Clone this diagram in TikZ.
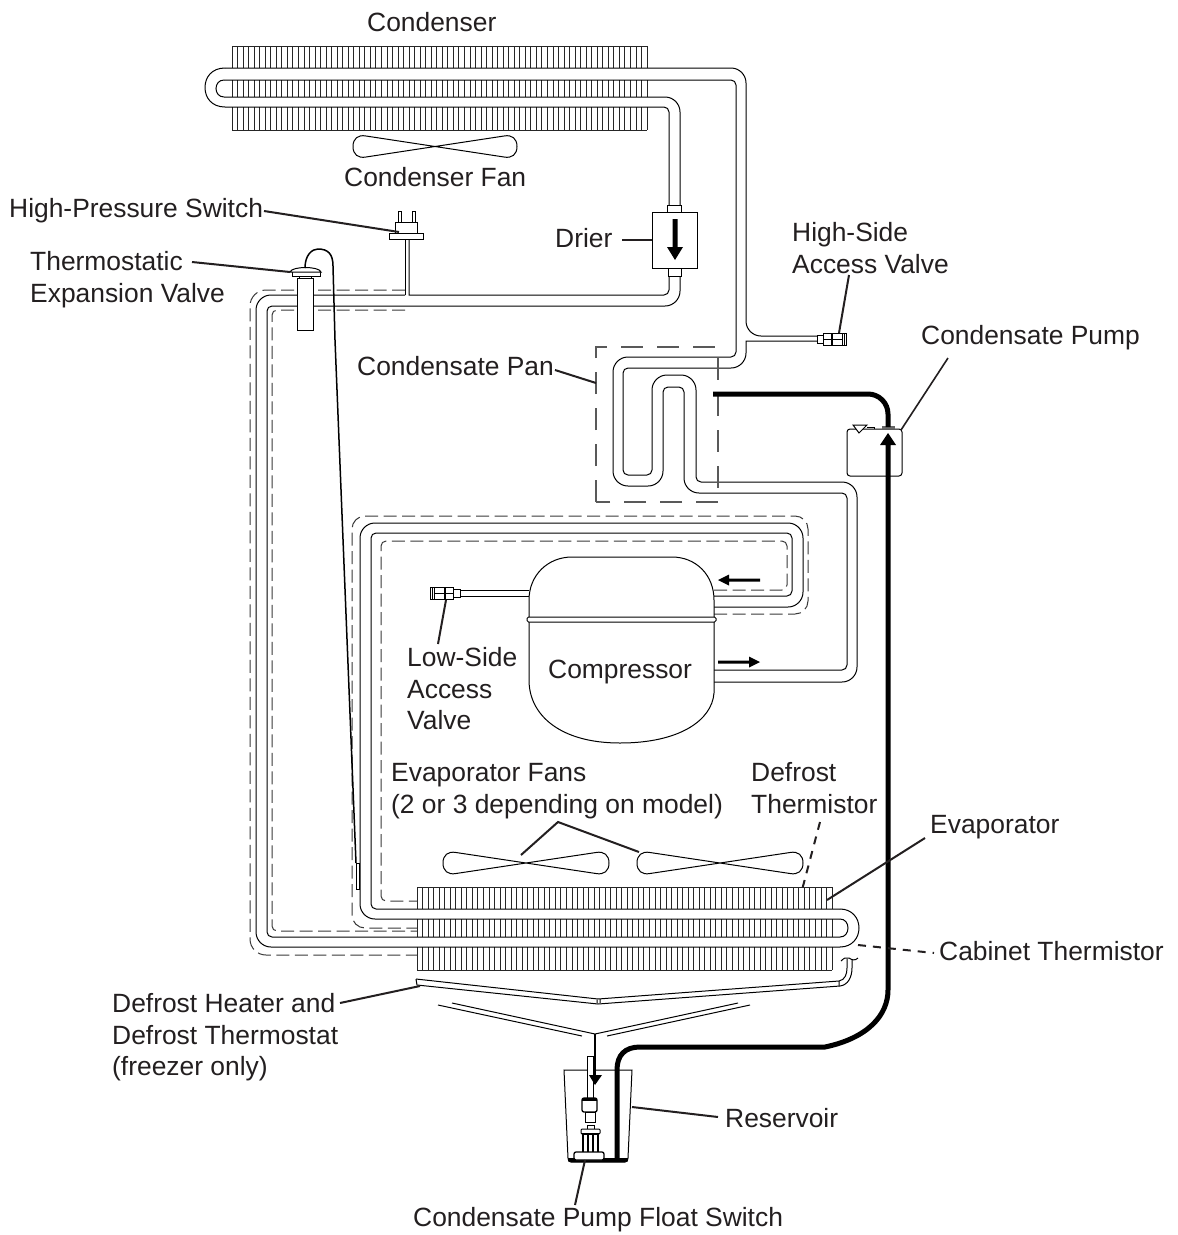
\documentclass[tikz,border=0pt]{standalone}
\usepackage{fontspec}
\setmainfont{Liberation Sans}
\definecolor{ink}{HTML}{231F20}
\definecolor{dashc}{HTML}{3A3A3A}
\tikzset{
  lbl/.style={anchor=north west,inner sep=0pt,align=left,text=ink,font=\fontsize{26.4}{31.8}\selectfont},
  tube/.style={draw=black,line width=1pt},
  finline/.style={draw=black!85,line width=.8pt},
  hint/.style={draw=dashc,line width=1pt,dash pattern=on 13pt off 5.5pt,rounded corners=#1},
  hint/.default=5pt,
  panline/.style={draw=black!65,line width=1.1pt,dash pattern=on 22pt off 14pt},
  leader/.style={draw=ink,line width=2pt},
  dleader/.style={draw=ink,line width=2pt,dash pattern=on 8pt off 7pt},
  thickline/.style={draw=black,line width=5pt},
  part/.style={draw=black,line width=1pt,fill=white},
  rs/.style={rounded corners=5pt},
  rb/.style={rounded corners=15pt}
}
\newcommand{\finrows}[7]{%x0,y1,y2,y3,y4,y5,y6
  \foreach \i [evaluate=\i as \xx using #1+5.533*\i] in {0,...,75}{
    \draw[finline] (\xx,#2)--(\xx,#3) (\xx,#4)--(\xx,#5) (\xx,#6)--(\xx,#7);
  }
  \draw[finline] (#1,#2)--({#1+415},#2) (#1,#7)--({#1+415},#7);
}
\newcommand{\fanshape}[3]{%
  \begin{scope}[shift={(#1,#2)}]
  \draw[tube] (0,0) -- (-#3+13,-10.5) .. controls (-#3+5,-12) and (-#3,-8) .. (-#3,0)
    .. controls (-#3,8) and (-#3+5,12) .. (-#3+13,10.5) -- (0,0)
    -- (#3-13,-10.5) .. controls (#3-5,-12) and (#3,-8) .. (#3,0)
    .. controls (#3,8) and (#3-5,12) .. (#3-13,10.5) -- cycle;
  \end{scope}}
\begin{document}
\begin{tikzpicture}[x=1pt,y=-1pt]
\path[use as bounding box,fill=white] (0,0) rectangle (1178,1235);

% fin banks
\finrows{232}{46}{68}{80}{97}{107}{130}
\finrows{417}{887}{909}{919}{937}{947}{970}

% condenser / condensate-pan tubing
\draw[tube,rb] (680,205) -- (680,97) -- (224,97);
\draw[tube] (224,97) .. controls (219,97) and (216,93) .. (216,88.5)
  .. controls (216,84) and (219,80) .. (224,80);
\draw[tube] (224,80) [rs] -- (736,80) -- (736,357) [rb] -- (613,357) -- (613,486) -- (663,486)
  [rs] -- (663,387) -- (684,387) [rb] -- (684,493) [rs] -- (847,493) -- (847,670) -- (714,670);
\draw[tube,rs] (669,205) -- (669,107) -- (225,107);
\draw[tube] (225,107) .. controls (212,107) and (205,98) .. (205,87.5)
  .. controls (205,77) and (212,68) .. (225,68);
\draw[tube] (225,68) [rb] -- (746,68) -- (746,336) -- (817,336);
\draw[tube] (817,341) -- (746,341) [rb] -- (746,368) [rs] -- (623,368) -- (623,475) -- (652,475)
  [rb] -- (652,375) -- (696,375) [rs] -- (696,482) [rb] -- (857,482) -- (857,682) -- (714,682);

% evaporator tubing
\draw[tube,rb] (714,607) -- (803,607) -- (803,523) -- (360,523) -- (360,919) -- (840,919);
\draw[tube] (840,919) .. controls (845,919) and (848,923) .. (848,928)
  .. controls (848,933) and (845,937) .. (840,937);
\draw[tube] (840,937) [rs] -- (267,937) -- (267,306) [rb] -- (680,306) -- (680,276);
\draw[tube,rs] (714,596) -- (792,596) -- (792,533) -- (371,533) -- (371,909) -- (840,909);
\draw[tube] (840,909) .. controls (852,909) and (859,918) .. (859,928)
  .. controls (859,938) and (852,947) .. (840,947);
\draw[tube,rb] (840,947) -- (256,947) -- (256,295) -- (405,295);
\draw[tube] (405,295) -- (405,239);
\draw[tube] (409,239) -- (409,295) [rs] -- (669,295) -- (669,276);

% dashed thermal lines
\draw[hint=13pt] (714,614) -- (808,614) -- (808,516) -- (352,516) -- (352,928) -- (417,928);
\draw[hint=5pt] (714,590) -- (787,590) -- (787,541) -- (381,541) -- (381,901) -- (417,901);
\draw[hint=16pt] (405,290) -- (250,290) -- (250,955) -- (417,955);
\draw[hint=5pt] (405,310) -- (272,310) -- (272,931) -- (417,931);
% condensate pan
\draw[panline] (596,502) -- (596,347) -- (718,347) -- (718,502) -- (596,502);

% fans
\fanshape{526}{863}{83}
\fanshape{720}{863}{83}
\fanshape{435}{146.5}{82}

% high pressure switch
\draw[part] (389,233) rectangle (423,239);
\draw[part] (395,222) rectangle (417,233);
\draw[part] (398,211) rectangle (401,222);
\draw[part] (412,211) rectangle (415,222);

% drier
\draw[part] (667,205) rectangle (681,212);
\draw[part] (668,268) rectangle (681,276);
\draw[part] (652,212) rectangle (697,268);
\fill[black] (672.5,219) -- (677.5,219) -- (677.5,247) -- (683,247) -- (675,260) -- (667,247) -- (672.5,247) -- cycle;

% expansion valve
\draw[part] (297,278) rectangle (313,330);
\draw[part] (299,276) rectangle (311,278);
\draw[part] (292,271) rectangle (320,276);
\draw[part] (290,272) .. controls (292,266) and (319,266) .. (321,272) -- cycle;
\draw[line width=1.5pt,black] (305,268) .. controls (305,255) and (312,249) .. (318,249)
  .. controls (328,249) and (333,254) .. (333,266) -- (335,340) -- (356,863);
\draw[part] (356,863) rectangle (359,889);

% access valves
\draw[part] (817,335) rectangle (823,343);
\draw[part] (823,333) rectangle (831,345);
\draw[part] (832,333) rectangle (846,345);
\draw[black,line width=1pt] (823,339)--(831,339) (832,339)--(842,339) (842,333)--(842,345) (844,333)--(844,345);
\draw[part] (453,589) rectangle (460,597);
\draw[part] (445,587) rectangle (453,599);
\draw[part] (430,587) rectangle (444,599);
\draw[black,line width=1pt] (445,593)--(453,593) (434,593)--(444,593) (434,587)--(434,599) (432,587)--(432,599);
\draw[tube] (460,590) -- (529,590) (460,596) -- (529,596);

% compressor
\draw[part] (529,617) -- (529,600) .. controls (529,575) and (548,557) .. (572,557)
  -- (672,557) .. controls (696,557) and (714,575) .. (714,600) -- (714,693)
  .. controls (712,720) and (680,743) .. (620,743)
  .. controls (560,743) and (529,715) .. (529,680) -- cycle;
\draw[part,rounded corners=1.5pt] (527,617) rectangle (716,622);
\fill[black] (760,578.5) -- (729,578.5) -- (729,574.5) -- (718,580) -- (729,585.5) -- (729,581.5) -- (760,581.5) -- cycle;
\fill[black] (718,660.5) -- (749,660.5) -- (749,656.5) -- (760,662) -- (749,667.5) -- (749,663.5) -- (718,663.5) -- cycle;

% condensate pump
\draw[part,rounded corners=3pt] (847,429) rectangle (902,476);
\draw[part] (853,425) -- (867,425) -- (859,433) -- cycle;
\draw[black,line width=.8pt] (867,427) -- (874,427) -- (874,429);
\fill[black!60] (882,426) rectangle (895,429);
\draw[thickline,rounded corners=20pt] (713,394) -- (888,394) -- (888,427);
\fill[black] (888,433) -- (896,445) -- (890.5,445) -- (890.5,476) -- (885.5,476) -- (885.5,445) -- (880,445) -- cycle;

% drain pan and funnel
\draw[tube] (416,979) -- (598,999) -- (839,981) .. controls (845,980) and (847,974) .. (847,968) -- (847,959);
\draw[tube] (417,985) -- (598,1004) -- (840,986) .. controls (848,985) and (852,977) .. (852,968) -- (852,959);
\draw[tube] (416,979) -- (417,985) (839,981) -- (839,986) (597,999.5) -- (597,1003) (600,999) -- (600,1003);
\draw[tube] (841,961) .. controls (844,958) and (846,957) .. (849,958) .. controls (852,960) and (855,961) .. (858,958);
\draw[tube] (452,1003) -- (595,1034) -- (738,1003);
\draw[tube] (438,1005) -- (582,1036) (607,1036) -- (750,1005);

% reservoir
\draw[tube] (564,1070) -- (632,1070) -- (628,1158) .. controls (628,1161) and (627,1162) .. (625,1162)
  -- (571,1162) .. controls (569,1162) and (568,1161) .. (568,1158) -- cycle;
\fill[black] (568,1158) -- (628,1158) .. controls (628,1161) and (627,1162) .. (625,1162) -- (571,1162) .. controls (569,1162) and (568,1161) .. (568,1158) -- cycle;
\draw[part] (587,1056) rectangle (593,1098);
\draw[line width=1.5pt,black] (595,1034) -- (595,1076);
\fill[black] (589,1075) -- (602,1075) -- (595,1085) -- cycle;
\draw[part,line width=1.3pt,rounded corners=2pt] (582,1098) rectangle (597,1112);
\fill[black] (582,1098) rectangle (597,1101);
\draw[part] (585,1112) rectangle (595,1122);
\draw[part] (587,1125) rectangle (594,1129);
\draw[part,rounded corners=1pt] (581,1129) rectangle (600,1134);
\draw[part,line width=1.5pt] (583,1134) rectangle (598,1153);
\draw[line width=1.5pt,black] (588,1134)--(588,1153) (593,1134)--(593,1153);
\draw[part,line width=1.3pt,rounded corners=2pt] (574,1152) rectangle (604,1160);
\draw[thickline] (888,476) -- (888,990) .. controls (888,1015) and (868,1038) .. (825,1047)
  -- (640,1047) .. controls (625,1047) and (617,1055) .. (617,1070) -- (617,1160);

% labels
\node[lbl] (tCondenser) at (367,12) {Condenser};
\node[lbl] (tCondFan) at (344,167) {Condenser Fan};
\node[lbl] (tHPS) at (9,198) {High-Pressure Switch};
\node[lbl] (tTXV) at (30,251) {Thermostatic\\Expansion Valve};
\node[lbl] (tDrier) at (555,228) {Drier};
\node[lbl] (tHSV) at (792,222) {High-Side\\Access Valve};
\node[lbl] (tPump) at (921,325) {Condensate Pump};
\node[lbl] (tPan) at (357,356) {Condensate Pan};
\node[lbl] (tLSV) at (407,647) {Low-Side\\Access\\Valve};
\node[lbl] (tComp) at (548,660) {Compressor};
\node[lbl] (tFans) at (391,763) {Evaporator Fans\\(2 or 3 depending on model)};
\node[lbl] (tDT) at (751,762) {Defrost\\Thermistor};
\node[lbl] (tEvap) at (930,815) {Evaporator};
\node[lbl] (tCab) at (939,941) {Cabinet Thermistor};
\node[lbl] (tHeat) at (112,993) {Defrost Heater and\\Defrost Thermostat\\(freezer only)};
\node[lbl] (tRes) at (725,1108) {Reservoir};
\node[lbl] (tFloat) at (413,1207) {Condensate Pump Float Switch};

% leaders
\coordinate (a1) at (264,211); \coordinate (a2) at (399,232);
\coordinate (b1) at (192,262); \coordinate (b2) at (290,272);
\coordinate (c1) at (622,240); \coordinate (c2) at (652,240);
\coordinate (d1) at (849,275); \coordinate (d2) at (839,333);
\coordinate (e1) at (948,358); \coordinate (e2) at (901,430);
\coordinate (f1) at (555,370); \coordinate (f2) at (596,383);
\coordinate (g1) at (446,600); \coordinate (g2) at (438,644);
\coordinate (h1) at (521,855); \coordinate (h2) at (558,822); \coordinate (h3) at (639,852);
\coordinate (i1) at (925,838); \coordinate (i2) at (827,900);
\coordinate (j1) at (340,1003); \coordinate (j2) at (420,986);
\coordinate (k1) at (632,1107); \coordinate (k2) at (718,1117);
\coordinate (l1) at (585,1160); \coordinate (l2) at (575,1205);
\coordinate (m1) at (820,822); \coordinate (m2) at (802,890);
\coordinate (n1) at (858,945); \coordinate (n2) at (934,953);
\draw[leader] (a1)--(a2);
\draw[leader] (b1)--(b2);
\draw[leader] (c1)--(c2);
\draw[leader] (d1)--(d2);
\draw[leader,line width=1.6pt] (e1)--(e2);
\draw[leader] (f1)--(f2);
\draw[leader] (g1)--(g2);
\draw[leader] (h1)--(h2)--(h3);
\draw[leader] (i1)--(i2);
\draw[leader] (j1)--(j2);
\draw[leader] (k1)--(k2);
\draw[leader] (l1)--(l2);
\draw[dleader] (m1)--(m2);
\draw[dleader] (n1)--(n2);
\end{tikzpicture}
\end{document}
